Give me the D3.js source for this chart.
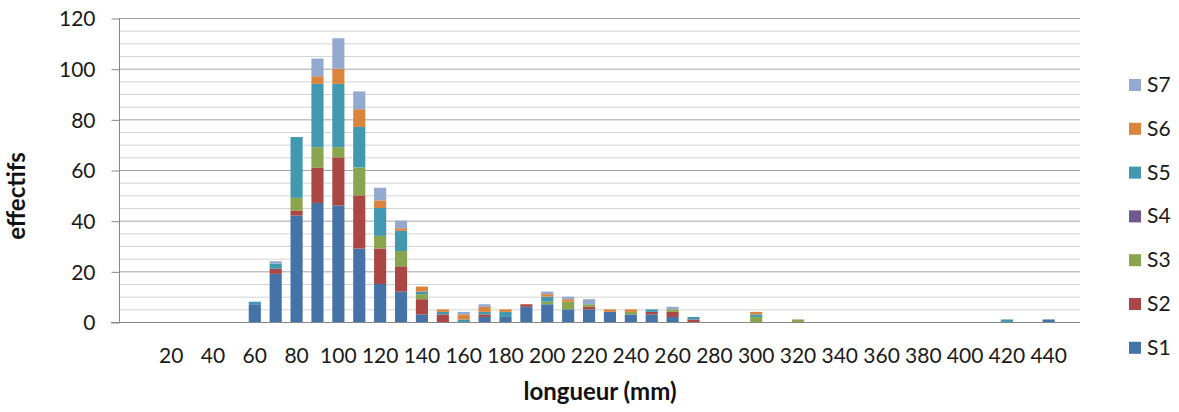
<!DOCTYPE html>
<html>
<head>
<meta charset="utf-8">
<script src="https://cdn.jsdelivr.net/npm/d3@7/dist/d3.min.js"></script>
<style>
  html, body { margin: 0; padding: 0; background: #fff; }
  svg { display: block; font-family: Lato, "Open Sans", sans-serif; }
</style>
</head>
<body>
<svg id="chart" width="1179" height="412"></svg>
<script>
// Categories: length classes (mm)
const categories = d3.range(0, 460, 10);
const tickLabels = [20,40,60,80,100,120,140,160,180,200,220,240,260,280,300,320,340,360,380,400,420,440];
const yTicks = [0,20,40,60,80,100,120];
const seriesNames = ["S1","S2","S3","S4","S5","S6","S7"];
const seriesColors = ["#4572a7","#aa4643","#89a54e","#71588f","#4198af","#db843d","#93a9cf"];

// values per category (0,10,...,450)
//            0 10 20 30 40 50 60 70 80 90 100 110 120 130 140 150 160 170 180 190 200 210 220 230 240 250 260 270 280 290 300 310 320 330 340 350 360 370 380 390 400 410 420 430 440 450
const S1 = [0, 0, 0, 0, 0, 0, 7,19,42,47, 46, 29, 15, 12,  3,  0,  0,  2,  2,  6,  7,  5,  5,  4,  3,  3,  2,  0,  0,  0,  0,  0,  0,  0,  0,  0,  0,  0,  0,  0,  0,  0,  0,  0,  1,  0];
const S2 = [0, 0, 0, 0, 0, 0, 0, 2, 2,14, 19, 21, 14, 10,  6,  3,  0,  1,  0,  1,  0,  0,  1,  0,  0,  1,  2,  1,  0,  0,  0,  0,  0,  0,  0,  0,  0,  0,  0,  0,  0,  0,  0,  0,  0,  0];
const S3 = [0, 0, 0, 0, 0, 0, 0, 0, 5, 8,  4, 11,  5,  6,  2,  0,  0,  0,  0,  0,  1,  3,  1,  0,  1,  0,  1,  0,  0,  0,  2,  0,  1,  0,  0,  0,  0,  0,  0,  0,  0,  0,  0,  0,  0,  0];
const S4 = [0, 0, 0, 0, 0, 0, 0, 0, 0, 0,  0,  0,  0,  0,  0,  0,  0,  0,  0,  0,  0,  0,  0,  0,  0,  0,  0,  0,  0,  0,  0,  0,  0,  0,  0,  0,  0,  0,  0,  0,  0,  0,  0,  0,  0,  0];
const S5 = [0, 0, 0, 0, 0, 0, 1, 2,24,25, 25, 16, 11,  8,  1,  1,  1,  1,  2,  0,  2,  0,  0,  0,  0,  1,  0,  1,  0,  0,  1,  0,  0,  0,  0,  0,  0,  0,  0,  0,  0,  0,  1,  0,  0,  0];
const S6 = [0, 0, 0, 0, 0, 0, 0, 0, 0, 3,  6,  7,  3,  1,  2,  1,  2,  2,  1,  0,  1,  1,  0,  1,  1,  0,  0,  0,  0,  0,  1,  0,  0,  0,  0,  0,  0,  0,  0,  0,  0,  0,  0,  0,  0,  0];
const S7 = [0, 0, 0, 0, 0, 0, 0, 1, 0, 7, 12,  7,  5,  3,  0,  0,  1,  1,  0,  0,  1,  1,  2,  0,  0,  0,  1,  0,  0,  0,  0,  0,  0,  0,  0,  0,  0,  0,  0,  0,  0,  0,  0,  0,  0,  0];

const seriesValues = [S1,S2,S3,S4,S5,S6,S7];
const table = categories.map((c, i) => {
  const row = { cat: c };
  seriesNames.forEach((s, k) => row[s] = seriesValues[k][i]);
  return row;
});

const svg = d3.select("#chart");
const pLeft = 119, pRight = 1080, pTop = 18, pBottom = 322;

const x = d3.scaleBand().domain(categories).range([pLeft, pRight]).paddingInner(0.42).paddingOuter(0.21);
const y = d3.scaleLinear().domain([0, 120]).range([pBottom, pTop]);

// gridlines minor (every 5)
svg.append("g").selectAll("line").data(d3.range(5, 121, 5).filter(v => v % 20 !== 0))
  .join("line")
  .attr("x1", pLeft).attr("x2", pRight)
  .attr("y1", d => y(d) + 0.5).attr("y2", d => y(d) + 0.5)
  .attr("stroke", "#d4d4d4").attr("stroke-width", 1);
// gridlines major
svg.append("g").selectAll("line").data(yTicks.filter(v => v > 0))
  .join("line")
  .attr("x1", pLeft).attr("x2", pRight)
  .attr("y1", d => y(d) + 0.5).attr("y2", d => y(d) + 0.5)
  .attr("stroke", "#a6a6a6").attr("stroke-width", 1);

// stacked bars
const stack = d3.stack().keys(seriesNames);
const stacked = stack(table);
svg.append("g").selectAll("g").data(stacked).join("g")
  .attr("fill", (d, i) => seriesColors[i])
  .selectAll("rect").data(d => d.filter(p => p[1] - p[0] > 0)).join("rect")
  .attr("x", d => x(d.data.cat))
  .attr("width", x.bandwidth())
  .attr("y", d => y(d[1]))
  .attr("height", d => y(d[0]) - y(d[1]));

// y axis
const yAxis = d3.axisLeft(y).tickValues(yTicks).tickSize(8).tickPadding(16);
const gy = svg.append("g").attr("transform", `translate(${pLeft + 0.5},0.5)`).call(yAxis);
gy.select(".domain").attr("stroke", "#868686").attr("d", `M0,${pTop}V${pBottom}`);
gy.selectAll(".tick line").attr("stroke", "#868686");
gy.selectAll(".tick text").attr("font-size", 21).attr("fill", "#1a1a1a").attr("font-family", "Lato").attr("dy", "0.35em");

// x axis
const xAxis = d3.axisBottom(x).tickValues(tickLabels).tickSize(0).tickPadding(26);
const gx = svg.append("g").attr("transform", `translate(0,${pBottom + 0.5})`).call(xAxis);
gx.select(".domain").attr("stroke", "#868686").attr("d", `M${pLeft - 8},0H${pRight}`);
gx.selectAll(".tick text").attr("font-size", 21).attr("fill", "#1a1a1a").attr("font-family", "Lato");

// axis titles
svg.append("text").attr("x", 600).attr("y", 400).attr("text-anchor", "middle")
  .attr("font-size", 24).attr("font-weight", "bold").attr("fill", "#111").text("longueur (mm)");
svg.append("text").attr("transform", "translate(25,196) rotate(-90)").attr("text-anchor", "middle")
  .attr("font-size", 24).attr("font-weight", "bold").attr("fill", "#111").text("effectifs");

// legend (reverse order S7 on top)
const legendOrder = seriesNames.map((s, i) => ({ name: s, color: seriesColors[i] })).reverse();
const lg = svg.append("g");
const items = lg.selectAll("g").data(legendOrder).join("g")
  .attr("transform", (d, i) => `translate(1129,${85 + i * 43.8})`);
items.append("rect").attr("x", 0).attr("y", -6).attr("width", 12).attr("height", 12).attr("fill", d => d.color);
items.append("text").attr("x", 18).attr("y", 7).attr("font-size", 21).attr("fill", "#1a1a1a").text(d => d.name);
</script>
</body>
</html>
